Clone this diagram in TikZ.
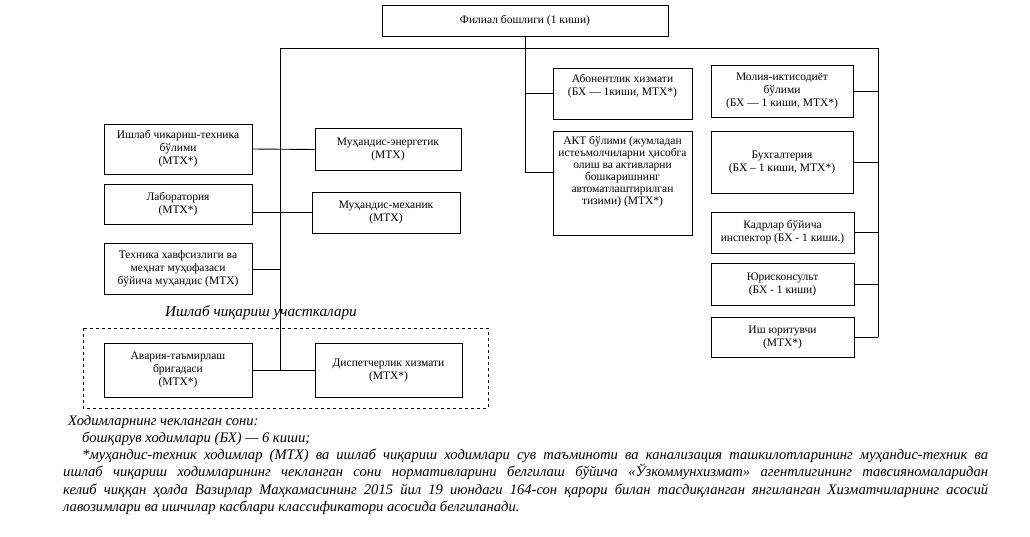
\documentclass[tikz,border=0pt]{standalone}
\usepackage{fontspec}
\setmainfont{Liberation Serif}
\begin{document}
\begin{tikzpicture}[x=1pt,y=-1pt,
  box/.style={draw,line width=0.9pt,inner sep=0pt,align=center,
    font=\fontsize{11.5}{13}\selectfont},
  conn/.style={line width=0.9pt},
  dashbox/.style={draw,dashed,line width=0.8pt}]
\useasboundingbox (0,0) rectangle (1030,537);
% top
\node[box,minimum width=286pt,minimum height=31pt] (top) at (525,20.5) {Филиал бошлиги (1 киши)};
\coordinate (hL) at (280,48);
\coordinate (hR) at (878,48);
\coordinate (hM) at (525,48);
% left column
\node[box,minimum width=148pt,minimum height=50pt] (ish) at (178,149) {Ишлаб чикариш-техника\\бўлими\\(МТХ*)};
\node[box,minimum width=148pt,minimum height=40pt] (lab) at (178,204.5) {Лаборатория\\(МТХ*)};
\node[box,minimum width=148pt,minimum height=51pt] (tex) at (178,269) {Техника хавфсизлиги ва\\меҳнат муҳофазаси\\бўйича муҳандис (МТХ)};
\node[box,minimum width=146pt,minimum height=42pt] (ene) at (388,149.5) {Муҳандис-энергетик\\(МТХ)};
\node[box,minimum width=148pt,minimum height=41pt] (mex) at (386,212.5) {Муҳандис-механик\\(МТХ)};
% production
\node[font=\fontsize{15.2}{17}\selectfont\itshape,inner sep=0pt] (uch) at (261,313) {Ишлаб чиқариш участкалари};
\draw[dashbox] (83,328) rectangle (488,408);
\node[box,minimum width=148pt,minimum height=54pt] (av) at (178,370) {Авария-таъмирлаш\\бригадаси\\(МТХ*)};
\node[box,minimum width=147pt,minimum height=54pt] (disp) at (388.5,370) {Диспетчерлик хизмати\\(МТХ*)};
% middle column
\node[box,minimum width=139pt,minimum height=51pt] (abon) at (622.5,93.5) {Абонентлик хизмати\\(БХ — 1киши, МТХ*)\\[4pt]};
\node[box,minimum width=139pt,minimum height=104pt,anchor=north] (akt) at (622.5,131)
  {\begin{minipage}[t][100pt][t]{137pt}\centering\fontsize{11.5}{12}\selectfont
   \vspace{3pt}АКТ бўлими (жумладан\\истеъмолчиларни ҳисобга\\олиш ва активларни\\бошкаришнинг\\автоматлаштирилган\\тизими) (МТХ*)\end{minipage}};
\coordinate (aktc) at (553,172);
% right column
\node[box,minimum width=142pt,minimum height=52pt] (mol) at (782,91) {Молия-иктисодиёт\\бўлими\\(БХ — 1 киши, МТХ*)};
\node[box,minimum width=142pt,minimum height=62pt] (bux) at (782,162) {Бухгалтерия\\(БХ – 1 киши, МТХ*)};
\node[box,minimum width=143pt,minimum height=41pt] (kad) at (782.5,232.5) {Кадрлар бўйича\\инспектор (БХ - 1 киши.)};
\node[box,minimum width=143pt,minimum height=42pt] (yur) at (782.5,284) {Юрисконсульт\\(БХ - 1 киши)};
\node[box,minimum width=143pt,minimum height=40pt] (iyu) at (782.5,337) {Иш юритувчи\\(МТХ*)};
% connectors
\draw[conn] (top.south) -- (hM);
\draw[conn] (hL) -- (hR);
\draw[conn] (hL) -- (hL |- av.east);
\draw[conn] (hR) -- (hR |- iyu.east);
\draw[conn] (hM) -- (hM |- aktc);
\draw[conn] (hM |- abon.west) -- (abon.west);
\draw[conn] (hM |- aktc) -- (aktc);
\draw[conn] (ish.east) -- (ene.west);
\draw[conn] (lab.east |- mex.west) -- (mex.west);
\draw[conn] (tex.east) -- (tex.east -| hL);
\draw[conn] (av.east) -- (disp.west);
\draw[conn] (mol.east) -- (mol.east -| hR);
\draw[conn] (bux.east) -- (bux.east -| hR);
\draw[conn] (kad.east) -- (kad.east -| hR);
\draw[conn] (yur.east) -- (yur.east -| hR);
\draw[conn] (iyu.east) -- (iyu.east -| hR);
% footnote
\node[anchor=north west,inner sep=0pt,text width=925pt,align=justify,
  font=\fontsize{14.6}{17.2}\selectfont\itshape] (note) at (63,415)
  {\hspace*{5pt}Ходимларнинг чекланган сони:\\
   \hspace*{19pt}бошқарув ходимлари (БХ) — 6 киши;\\
   \hspace*{19pt}*муҳандис-техник ходимлар (МТХ) ва ишлаб чиқариш ходимлари сув таъминоти ва канализация ташкилотларининг муҳандис-техник ва\linebreak
   ишлаб чиқариш ходимларининг чекланган сони нормативларини белгилаш бўйича «Ўзкоммунхизмат» агентлигининг тавсияномаларидан\linebreak
   келиб чиққан ҳолда Вазирлар Маҳкамасининг 2015 йил 19 июндаги 164-сон қарори билан тасдиқланган янгиланган Хизматчиларнинг асосий\linebreak
   лавозимлари ва ишчилар касблари классификатори асосида белгиланади.};
\end{tikzpicture}
\end{document}
